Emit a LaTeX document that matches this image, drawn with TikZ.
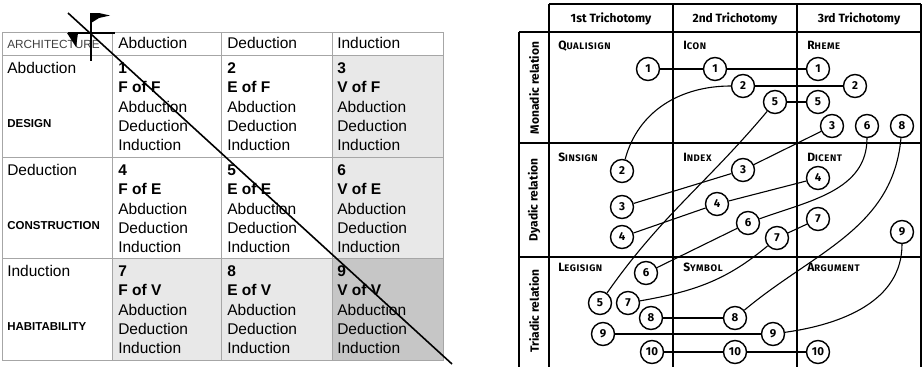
\documentclass[tikz,border=0pt]{standalone}
\usepackage{fontspec}
\setmainfont{Liberation Sans}
\newfontfamily\handfont{Fira Sans}
\usetikzlibrary{positioning}

\newcommand{\smc}[2]{{\addfontfeature{LetterSpace=6}\fontsize{12}{13}\selectfont #1\fontsize{9.5}{10}\selectfont #2}}

\begin{document}
\begin{tikzpicture}[x=1pt,y=-1pt,semithick,
    tbl/.style={draw=gray!70,line width=0.8pt},
    txt/.style={anchor=base west,inner sep=0pt,font=\fontsize{15.5}{18}\selectfont},
    btxt/.style={txt,font=\fontsize{15.5}{18}\selectfont\bfseries},
    lbl/.style={anchor=base west,inner sep=0pt,font=\fontsize{11.5}{13}\selectfont\bfseries},
    hand/.style={inner sep=0pt,font=\handfont\bfseries\fontsize{12}{13}\selectfont},
    sgn/.style={circle,draw,line width=1.4pt,minimum size=23pt,inner sep=0pt,fill=white,
        font=\handfont\bfseries\fontsize{11.5}{12}\selectfont},
    grd/.style={line width=1.8pt}]

  \useasboundingbox (0,0) rectangle (922,367);

  % shading of the left table
  \fill[gray!18] (332,55) rectangle (443,258);
  \fill[gray!18] (112,258) rectangle (332,360);
  \fill[gray!45] (332,258) rectangle (443,360);

  % left table
  \draw[tbl] (2,32) rectangle (443,360);
  \foreach \y in {55,157,258} \draw[tbl] (2,\y) -- (443,\y);
  \foreach \x in {112,221,332} \draw[tbl] (\x,32) -- (\x,360);

  \node[txt,font=\fontsize{11.8}{13}\selectfont,text=black!75] (arch) at (7,48.5) {ARCHITECTURE};
  \foreach \x/\t in {118/Abduction,227/Deduction,337/Induction}
    \node[txt] (h\t) at (\x,48.5) {\t};

  \foreach \y/\t/\s in {55/Abduction/DESIGN,157/Deduction/CONSTRUCTION,258/Induction/HABITABILITY} {
    \node[txt] (r\t) at (7,\y+18.5) {\t};
    \node[lbl] (\s) at (7,\y+72.5) {\s};
  }

  \foreach \r/\y/\a in {0/55/F,1/157/E,2/258/V}
    \foreach \c/\x/\b in {0/118/F,1/227/E,2/337/V} {
      \pgfmathtruncatemacro{\n}{3*\r+\c+1}
      \node[btxt] (c\n-0) at (\x,\y+18.5) {\n};
      \node[btxt] (c\n-1) at (\x,\y+37.8) {\b\ of \a};
      \foreach \k/\w in {2/Abduction,3/Deduction,4/Induction}
        \node[txt] (c\n-\k) at (\x,\y+18.5+19.3*\k) {\w};
    }

  % diagonal and the marks
  \draw[line width=1.6pt] (68,13) -- (452,364);
  \draw[line width=1.4pt] (91,13) -- (91,61) (68,33) -- (115,33);
  \fill (91,13) -- (99,13) -- (110,15.5) -- (99,18) -- (91,23) -- cycle;
  \fill (67,33) -- (78,33) -- (76,47) -- cycle;

  % right table
  \draw[grd] (549,4) -- (921,4);
  \draw[grd] (519,32) -- (921,32);
  \draw[grd] (519,32) -- (519,367);
  \foreach \x in {549,673,797,921} \draw[grd] (\x,4) -- (\x,367);
  \foreach \y in {143,257} \draw[grd] (519,\y) -- (921,\y);

  \node[hand] (T1) at (611,19) {1st Trichotomy};
  \node[hand] (T2) at (735,19) {2nd Trichotomy};
  \node[hand] (T3) at (859,19) {3rd Trichotomy};

  \node[hand,rotate=90] (Mon) at (534,88) {Monadic relation};
  \node[hand,rotate=90] (Dya) at (534,200) {Dyadic relation};
  \node[hand,rotate=90] (Tri) at (534,311) {Triadic relation};

  \node[hand,anchor=base west] (qual) at (558,49) {\smc{Q}{UALISIGN}};
  \node[hand,anchor=base west] (icon) at (683,49) {\smc{I}{CON}};
  \node[hand,anchor=base west] (rhem) at (807,49) {\smc{R}{HEME}};
  \node[hand,anchor=base west] (sins) at (558,161) {\smc{S}{INSIGN}};
  \node[hand,anchor=base west] (inde) at (683,161) {\smc{I}{NDEX}};
  \node[hand,anchor=base west] (dice) at (807,161) {\smc{D}{ICENT}};
  \node[hand,anchor=base west] (legi) at (558,271) {\smc{L}{EGISIGN}};
  \node[hand,anchor=base west] (symb) at (683,271) {\smc{S}{YMBOL}};
  \node[hand,anchor=base west] (argu) at (807,271) {\smc{A}{RGUMENT}};

  % the signs
  \node[sgn] (Q1) at (648,69) {1};
  \node[sgn] (I1) at (715,69) {1};
  \node[sgn] (R1) at (818,69) {1};
  \node[sgn] (I2) at (743,86) {2};
  \node[sgn] (R2) at (855,86) {2};
  \node[sgn] (I5) at (775,102) {5};
  \node[sgn] (R5) at (818,102) {5};
  \node[sgn] (R3) at (832,126) {3};
  \node[sgn] (R6) at (867,126) {6};
  \node[sgn] (R8) at (902,126) {8};
  \node[sgn] (S2) at (622,171) {2};
  \node[sgn] (X3) at (743,170) {3};
  \node[sgn] (D4) at (818,178) {4};
  \node[sgn] (S3) at (622,207) {3};
  \node[sgn] (X4) at (717,204) {4};
  \node[sgn] (S4) at (622,237) {4};
  \node[sgn] (X6) at (748,223) {6};
  \node[sgn] (D7) at (818,219) {7};
  \node[sgn] (X7) at (777,238) {7};
  \node[sgn] (D9) at (902,232) {9};
  \node[sgn] (L6) at (646,273) {6};
  \node[sgn] (L5) at (600,303) {5};
  \node[sgn] (L7) at (628,303) {7};
  \node[sgn] (L8) at (651,318) {8};
  \node[sgn] (Y8) at (735,318) {8};
  \node[sgn] (L9) at (603,334) {9};
  \node[sgn] (Y9) at (773,334) {9};
  \node[sgn] (L10) at (652,352) {10};
  \node[sgn] (Y10) at (735,352) {10};
  \node[sgn] (A10) at (818,352) {10};

  \path[line width=1.1pt]
  (Q1) edge (I1)
  (I1) edge (R1)
  (S2) edge[out=75,in=180] (I2)
  (I2) edge (R2)
  (I5) edge (R5)
  (I5) edge[out=230,in=55] (L5)
  (S3) edge (X3)
  (X3) edge (R3)
  (S4) edge (X4)
  (X4) edge (D4)
  (L6) edge (X6)
  (X6) edge[out=20,in=270] (R6)
  (L7) edge[out=10,in=220] (X7)
  (X7) edge (D7)
  (L8) edge (Y8)
  (Y8) edge[out=40,in=265] (R8)
  (L9) edge (Y9)
  (Y9) edge[out=8,in=270] (D9)
  (L10) edge (Y10)
  (Y10) edge (A10);

\end{tikzpicture}
\end{document}
